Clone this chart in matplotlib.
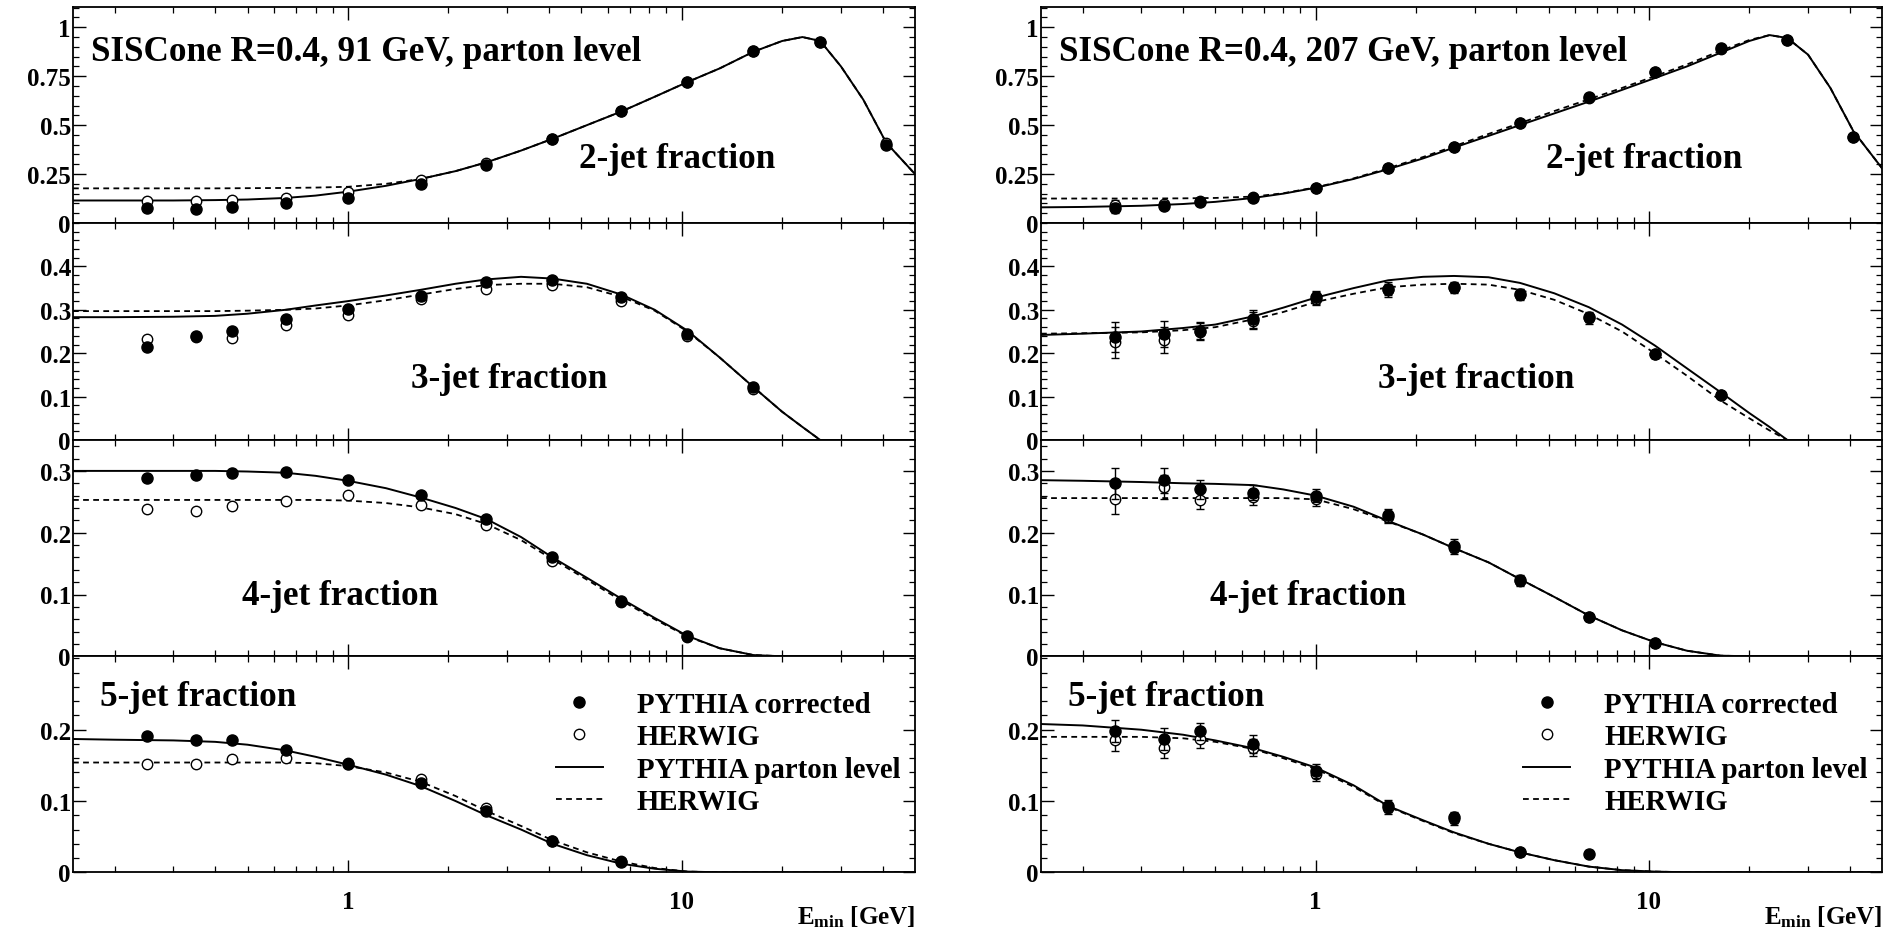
import numpy as np
import matplotlib
matplotlib.use("Agg")
import matplotlib.pyplot as plt
from matplotlib.lines import Line2D
from matplotlib.ticker import FixedLocator, MultipleLocator, NullFormatter

plt.rcParams['font.family'] = ['Liberation Serif', 'DejaVu Serif']
plt.rcParams['font.weight'] = 'bold'
plt.rcParams['mathtext.fontset'] = 'custom'
plt.rcParams['mathtext.rm'] = 'Liberation Serif:bold'
plt.rcParams['mathtext.bf'] = 'Liberation Serif:bold'
plt.rcParams['mathtext.it'] = 'Liberation Serif:bold'

nan = np.nan

# ---------------- data ----------------
E_min = [0.25, 0.35, 0.45, 0.65, 1.0, 1.65, 2.6, 4.1, 6.6, 10.4, 16.4, 26, 41]
E_curve = [0.15, 0.2, 0.3, 0.4, 0.5, 0.65, 0.8, 1.0, 1.3, 1.65, 2.1, 2.6, 3.3,
           4.1, 5.2, 6.6, 8.3, 10.4, 13, 16.4, 20, 23, 26, 30, 35, 41, 50]

# 91 GeV
pyth_corr_91_2j = [0.075, 0.072, 0.08, 0.10, 0.13, 0.20, 0.295, 0.43, 0.57, 0.72, 0.877, 0.925, 0.40]
herwig_91_2j = [0.11, 0.11, 0.12, 0.128, 0.157, 0.22, 0.305, 0.43, 0.57, 0.72, 0.877, 0.925, 0.41]
pyth_corr_91_3j = [0.215, 0.239, 0.252, 0.279, 0.302, 0.332, 0.364, 0.368, 0.329, 0.245, 0.122, nan, nan]
herwig_91_3j = [0.232, 0.237, 0.235, 0.264, 0.288, 0.325, 0.349, 0.358, 0.321, 0.24, 0.118, nan, nan]
pyth_corr_91_4j = [0.288, 0.293, 0.296, 0.298, 0.285, 0.261, 0.222, 0.16, 0.09, 0.033, nan, nan, nan]
herwig_91_4j = [0.239, 0.235, 0.243, 0.251, 0.261, 0.245, 0.212, 0.155, 0.088, 0.032, nan, nan, nan]
pyth_corr_91_5j = [0.191, 0.186, 0.185, 0.172, 0.152, 0.125, 0.086, 0.044, 0.015, nan, nan, nan, nan]
herwig_91_5j = [0.152, 0.152, 0.159, 0.16, 0.153, 0.131, 0.09, 0.044, 0.016, nan, nan, nan, nan]

parton_91_2j = [0.115, 0.115, 0.115, 0.117, 0.12, 0.128, 0.14, 0.16, 0.19, 0.225, 0.265, 0.31, 0.37,
                0.43, 0.50, 0.57, 0.645, 0.72, 0.79, 0.875, 0.93, 0.95, 0.93, 0.80, 0.63, 0.41, 0.25]
herwig_line_91_2j = [0.177, 0.177, 0.177, 0.177, 0.178, 0.179, 0.181, 0.185, 0.2, 0.225, 0.265, 0.31, 0.37,
                     0.43, 0.50, 0.57, 0.645, 0.72, 0.79, 0.875, 0.93, 0.95, 0.93, 0.80, 0.63, 0.41, 0.25]
parton_91_3j = [0.283, 0.283, 0.284, 0.286, 0.291, 0.30, 0.31, 0.32, 0.333, 0.346, 0.36, 0.37, 0.376,
                0.372, 0.36, 0.335, 0.30, 0.252, 0.19, 0.122, 0.065, 0.03, 0.0, 0, 0, 0, 0]
herwig_line_91_3j = [0.297, 0.297, 0.297, 0.297, 0.298, 0.30, 0.303, 0.31, 0.322, 0.335, 0.348, 0.357, 0.36,
                     0.36, 0.352, 0.33, 0.298, 0.25, 0.19, 0.122, 0.065, 0.03, 0.0, 0, 0, 0, 0]
parton_91_4j = [0.30, 0.30, 0.30, 0.30, 0.299, 0.297, 0.292, 0.284, 0.272, 0.257, 0.24, 0.222, 0.193,
                0.16, 0.127, 0.093, 0.062, 0.033, 0.013, 0.002, 0, 0, 0, 0, 0, 0, 0]
herwig_line_91_4j = [0.253, 0.253, 0.253, 0.253, 0.253, 0.253, 0.253, 0.252, 0.248, 0.241, 0.23, 0.214, 0.188,
                     0.157, 0.124, 0.09, 0.06, 0.032, 0.013, 0.002, 0, 0, 0, 0, 0, 0, 0]
parton_91_5j = [0.187, 0.186, 0.185, 0.183, 0.179, 0.171, 0.162, 0.151, 0.137, 0.121, 0.10, 0.08, 0.06,
                0.04, 0.024, 0.012, 0.005, 0.001, 0, 0, 0, 0, 0, 0, 0, 0, 0]
herwig_line_91_5j = [0.154, 0.154, 0.154, 0.154, 0.154, 0.154, 0.153, 0.149, 0.14, 0.127, 0.107, 0.086, 0.065,
                     0.045, 0.028, 0.015, 0.006, 0.001, 0, 0, 0, 0, 0, 0, 0, 0, 0]

# 207 GeV
pyth_corr_207_2j = [0.075, 0.085, 0.105, 0.13, 0.179, 0.279, 0.39, 0.509, 0.642, 0.773, 0.892, 0.935, 0.44]
herwig_207_2j = [0.09, 0.095, 0.11, 0.135, 0.18, 0.28, 0.39, 0.51, 0.64, 0.77, 0.89, 0.935, 0.44]
err_207_2j = [0.025, 0.015, 0.012, 0.01, 0.01, 0.01, 0.01, 0.01, 0.01, 0.01, 0.01, 0.01, 0.015]
pyth_corr_207_3j = [0.237, 0.245, 0.252, 0.279, 0.329, 0.348, 0.352, 0.337, 0.283, 0.198, 0.104, nan, nan]
herwig_207_3j = [0.225, 0.23, 0.25, 0.275, 0.325, 0.345, 0.35, 0.335, 0.28, 0.198, 0.104, nan, nan]
err_207_3j = [0.035, 0.03, 0.02, 0.02, 0.015, 0.015, 0.012, 0.012, 0.012, 0.008, 0.006, nan, nan]
pyth_corr_207_4j = [0.28, 0.285, 0.27, 0.265, 0.26, 0.228, 0.179, 0.124, 0.064, 0.022, nan, nan, nan]
herwig_207_4j = [0.255, 0.274, 0.253, 0.257, 0.254, 0.225, 0.175, 0.122, 0.063, 0.021, nan, nan, nan]
err_207_4j = [0.025, 0.02, 0.015, 0.012, 0.01, 0.01, 0.01, 0.008, 0.006, 0.005, nan, nan, nan]
pyth_corr_207_5j = [0.198, 0.187, 0.198, 0.18, 0.142, 0.093, 0.077, 0.028, 0.026, nan, nan, nan, nan]
herwig_207_5j = [0.185, 0.175, 0.187, 0.175, 0.138, 0.09, 0.075, 0.028, nan, nan, nan, nan, nan]
err_207_5j = [0.015, 0.015, 0.012, 0.012, 0.01, 0.008, 0.008, 0.005, 0.005, nan, nan, nan, nan]

parton_207_2j = [0.08, 0.082, 0.088, 0.097, 0.108, 0.128, 0.15, 0.18, 0.225, 0.275, 0.33, 0.385, 0.445,
                 0.50, 0.56, 0.62, 0.68, 0.74, 0.80, 0.87, 0.93, 0.96, 0.945, 0.86, 0.69, 0.47, 0.28]
herwig_line_207_2j = [0.125, 0.125, 0.125, 0.126, 0.128, 0.135, 0.152, 0.182, 0.228, 0.28, 0.337, 0.392, 0.455,
                      0.51, 0.572, 0.632, 0.69, 0.75, 0.81, 0.88, 0.935, 0.96, 0.945, 0.86, 0.69, 0.47, 0.28]
parton_207_3j = [0.242, 0.245, 0.25, 0.258, 0.266, 0.285, 0.305, 0.328, 0.35, 0.368, 0.376, 0.378, 0.375,
                 0.362, 0.338, 0.306, 0.266, 0.218, 0.165, 0.11, 0.062, 0.03, 0.0, 0, 0, 0, 0]
herwig_line_207_3j = [0.245, 0.246, 0.248, 0.253, 0.26, 0.278, 0.295, 0.318, 0.337, 0.352, 0.358, 0.36, 0.358,
                      0.346, 0.323, 0.29, 0.25, 0.20, 0.148, 0.091, 0.05, 0.022, 0.0, 0, 0, 0, 0]
parton_207_4j = [0.285, 0.284, 0.282, 0.28, 0.279, 0.277, 0.27, 0.26, 0.242, 0.219, 0.197, 0.175, 0.152,
                 0.125, 0.096, 0.066, 0.042, 0.023, 0.009, 0.001, 0, 0, 0, 0, 0, 0, 0]
herwig_line_207_4j = [0.256, 0.256, 0.256, 0.256, 0.256, 0.256, 0.256, 0.254, 0.238, 0.218, 0.197, 0.175, 0.152,
                      0.125, 0.096, 0.066, 0.042, 0.023, 0.009, 0.001, 0, 0, 0, 0, 0, 0, 0]
parton_207_5j = [0.208, 0.206, 0.2, 0.193, 0.185, 0.174, 0.162, 0.147, 0.122, 0.093, 0.073, 0.056, 0.04,
                 0.028, 0.017, 0.008, 0.003, 0.001, 0, 0, 0, 0, 0, 0, 0, 0, 0]
herwig_line_207_5j = [0.19, 0.19, 0.19, 0.188, 0.183, 0.173, 0.16, 0.145, 0.12, 0.092, 0.072, 0.055, 0.04,
                      0.028, 0.017, 0.008, 0.003, 0.001, 0, 0, 0, 0, 0, 0, 0, 0, 0]

x_minor = [0.2, 0.3, 0.4, 0.5, 0.6, 0.7, 0.8, 0.9, 2, 3, 4, 5, 6, 7, 8, 9, 20, 30, 40]
x_major = [1, 10]
x_major_labels = ['1', '10']

row_ylims = [1.102, 0.5, 0.35, 0.303]
row_yticks = [[0, 0.25, 0.5, 0.75, 1.0], [0, 0.1, 0.2, 0.3, 0.4], [0, 0.1, 0.2, 0.3], [0, 0.1, 0.2]]
row_yticklabels = [['0', '0.25', '0.5', '0.75', '1'], ['0', '0.1', '0.2', '0.3', '0.4'],
                   ['0', '0.1', '0.2', '0.3'], ['0', '0.1', '0.2']]
row_yminor = [0.05, 0.02, 0.02, 0.02]
jet_labels = ['2-jet fraction', '3-jet fraction', '4-jet fraction', '5-jet fraction']
jet_label_pos = [(0.601, 0.297), (0.401, 0.282), (0.201, 0.279), (0.032, 0.816)]
titles = ['SISCone R=0.4, 91 GeV, parton level', 'SISCone R=0.4, 207 GeV, parton level']
legend_labels = ['PYTHIA corrected', 'HERWIG', 'PYTHIA parton level', 'HERWIG']

columns = [
    dict(corr=[pyth_corr_91_2j, pyth_corr_91_3j, pyth_corr_91_4j, pyth_corr_91_5j],
         herw=[herwig_91_2j, herwig_91_3j, herwig_91_4j, herwig_91_5j],
         err=[None, None, None, None],
         part=[parton_91_2j, parton_91_3j, parton_91_4j, parton_91_5j],
         hline=[herwig_line_91_2j, herwig_line_91_3j, herwig_line_91_4j, herwig_line_91_5j]),
    dict(corr=[pyth_corr_207_2j, pyth_corr_207_3j, pyth_corr_207_4j, pyth_corr_207_5j],
         herw=[herwig_207_2j, herwig_207_3j, herwig_207_4j, herwig_207_5j],
         err=[err_207_2j, err_207_3j, err_207_4j, err_207_5j],
         part=[parton_207_2j, parton_207_3j, parton_207_4j, parton_207_5j],
         hline=[herwig_line_207_2j, herwig_line_207_3j, herwig_line_207_4j, herwig_line_207_5j]),
]

# ---------------- layout ----------------
W, H = 1898, 928
fig = plt.figure(figsize=(W / 100, H / 100), dpi=100)
col_x = [(73, 915), (1041, 1882)]
row_y = [(8.3, 224), (224, 441), (441, 657.3), (657.3, 873.3)]
dash = (0, (3.2, 2.4))
LABEL_SIZE = 25.3

for c, col in enumerate(columns):
    x0, x1 = col_x[c]
    for r in range(4):
        y0, y1 = row_y[r]
        ax = fig.add_axes([x0 / W, 1 - y1 / H, (x1 - x0) / W, (y1 - y0) / H])
        ax.set_xscale('log')
        ax.set_xlim(0.15, 50)
        ax.set_ylim(0, row_ylims[r])

        ax.plot(E_curve, col['part'][r], color='k', lw=1.4, zorder=2)
        ax.plot(E_curve, col['hline'][r], color='k', lw=1.3, ls=dash, zorder=2)
        err = col['err'][r]
        if err is None:
            ax.plot(E_min, col['herw'][r], 'o', ms=7.5, mfc='white', mec='k', mew=1.0, zorder=3)
            ax.plot(E_min, col['corr'][r], 'o', ms=8, color='k', zorder=4)
        else:
            ax.errorbar(E_min, col['herw'][r], yerr=err, fmt='o', ms=7.5, mfc='white', mec='k',
                        mew=1.0, ecolor='k', elinewidth=1.0, capsize=3, zorder=3)
            ax.errorbar(E_min, col['corr'][r], yerr=err, fmt='o', ms=8, color='k',
                        elinewidth=1.0, capsize=3, zorder=4)

        ax.xaxis.set_major_locator(FixedLocator(x_major))
        ax.xaxis.set_minor_locator(FixedLocator(x_minor))
        ax.yaxis.set_major_locator(FixedLocator(row_yticks[r]))
        ax.yaxis.set_minor_locator(MultipleLocator(row_yminor[r]))
        ax.set_yticklabels(row_yticklabels[r])
        if r == 3:
            ax.set_xticklabels(x_major_labels)
        else:
            ax.set_xticklabels([])
        ax.xaxis.set_minor_formatter(NullFormatter())
        ax.tick_params(axis='x', which='both', direction='in', top=True, bottom=True,
                       labelsize=18, pad=13)
        ax.tick_params(axis='y', which='both', direction='in', left=True, right=True,
                       labelsize=18, pad=1.5)
        ax.tick_params(which='major', length=9, width=1.0)
        ax.tick_params(which='minor', length=4.5, width=0.9)
        for s in ax.spines.values():
            s.set_linewidth(1.3)

        lx, ly = jet_label_pos[r]
        ax.text(lx, ly, jet_labels[r], transform=ax.transAxes, fontsize=LABEL_SIZE,
                fontweight='bold', ha='left', va='center')
        if r == 0:
            ax.text(0.021, 0.793, titles[c], transform=ax.transAxes, fontsize=LABEL_SIZE,
                    fontweight='bold', ha='left', va='center')
        if r == 3:
            handles = [Line2D([], [], marker='o', ls='none', color='k', ms=8),
                       Line2D([], [], marker='o', ls='none', mfc='white', mec='k', mew=1.0, ms=7.5),
                       Line2D([], [], color='k', lw=1.4),
                       Line2D([], [], color='k', lw=1.3, ls=dash)]
            ax.legend(handles, legend_labels, loc='upper left', bbox_to_anchor=(0.5736, 0.840),
                      frameon=False, prop={'size': 20.7, 'weight': 'bold'}, handlelength=1.635,
                      handletextpad=1.18, labelspacing=0.19, borderaxespad=0, borderpad=0)
            ax.text(1.0, -0.202, r'E$_{\rm min}$ [GeV]', transform=ax.transAxes,
                    fontsize=18, fontweight='bold', ha='right', va='center')

fig.savefig('out.png', dpi=100)
